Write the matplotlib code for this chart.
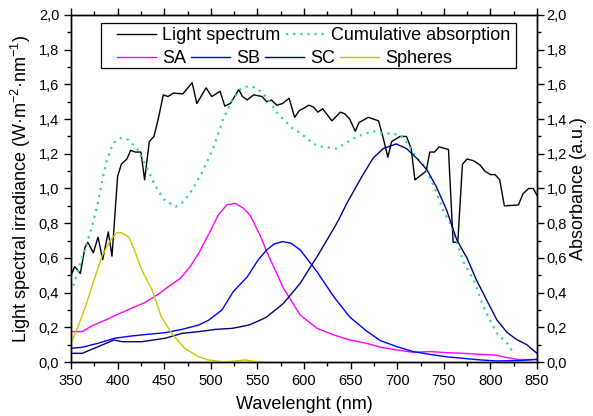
import matplotlib
matplotlib.use("Agg")
import matplotlib.pyplot as plt
from matplotlib.ticker import MultipleLocator, FuncFormatter
from matplotlib.patches import Rectangle

plt.rcParams['font.family'] = ['Liberation Sans', 'DejaVu Sans']
plt.rcParams['mathtext.fontset'] = 'custom'
plt.rcParams['mathtext.rm'] = 'Liberation Sans'
plt.rcParams['mathtext.it'] = 'Liberation Sans'

# Light spectrum (left axis)
light_wl = [350, 354, 360, 365, 368, 374, 379, 384, 390, 394, 400, 404, 410, 414,
            419, 425, 429, 434, 439, 444, 449, 454, 460, 470, 480, 485, 495, 501,
            510, 515, 521, 530, 534, 539, 546, 555, 560, 565, 571, 577, 584, 590,
            595, 599, 605, 610, 615, 620, 630, 639, 644, 649, 655, 659, 669, 680,
            685, 690, 694, 703, 710, 715, 719, 731, 735, 740, 745, 755, 760, 765,
            770, 775, 782, 789, 794, 800, 805, 810, 815, 830, 835, 841, 846, 850]
light_val = [0.50, 0.55, 0.51, 0.66, 0.69, 0.63, 0.72, 0.59, 0.75, 0.61, 1.07, 1.14, 1.17, 1.22,
             1.21, 1.21, 1.05, 1.27, 1.30, 1.41, 1.54, 1.53, 1.55, 1.545, 1.61, 1.49, 1.58, 1.53,
             1.56, 1.475, 1.49, 1.57, 1.53, 1.51, 1.54, 1.53, 1.50, 1.51, 1.48, 1.49, 1.52, 1.41,
             1.45, 1.46, 1.48, 1.47, 1.44, 1.46, 1.39, 1.44, 1.43, 1.40, 1.33, 1.38, 1.41, 1.39,
             1.29, 1.18, 1.27, 1.30, 1.30, 1.23, 1.05, 1.10, 1.21, 1.21, 1.24, 1.225, 0.69, 0.69,
             1.14, 1.17, 1.16, 1.135, 1.10, 1.08, 1.08, 1.05, 0.90, 0.905, 0.97, 1.00, 1.00, 0.96]

# Cumulative absorption (right axis)
cum_wl = [350, 372, 379, 383, 388, 395, 403, 412, 422, 431, 440, 449, 462, 471, 481,
          492, 503, 513, 522, 531, 540, 549, 560, 572, 588, 596, 605, 614, 635, 657,
          674, 685, 703, 710, 719, 730, 741, 750, 758, 771, 782, 794, 807, 818, 825]
cum_val = [0.40, 0.77, 0.92, 1.03, 1.155, 1.26, 1.29, 1.28, 1.22, 1.125, 1.02, 0.94, 0.895, 0.924, 1.00,
           1.107, 1.24, 1.395, 1.50, 1.57, 1.59, 1.58, 1.525, 1.43, 1.345, 1.32, 1.28, 1.245, 1.23, 1.30,
           1.33, 1.32, 1.31, 1.27, 1.19, 1.125, 0.99, 0.866, 0.79, 0.578, 0.473, 0.30, 0.165, 0.108, 0.05]

sa_wl = [350, 362, 372, 387, 401, 415, 429, 444, 456, 467, 478, 488, 499, 508, 517,
         526, 535, 542, 553, 560, 578, 596, 614, 632, 649, 667, 682, 700, 717, 735,
         753, 771, 789, 805, 818, 832, 850]
sa_val = [0.175, 0.175, 0.207, 0.242, 0.277, 0.31, 0.342, 0.392, 0.44, 0.48, 0.55, 0.636, 0.75, 0.847, 0.905,
          0.915, 0.886, 0.847, 0.73, 0.636, 0.425, 0.27, 0.194, 0.156, 0.127, 0.108, 0.085, 0.069, 0.056, 0.06,
          0.054, 0.05, 0.044, 0.04, 0.025, 0.012, 0.015]

sb_wl = [350, 362, 379, 397, 415, 433, 451, 469, 487, 498, 512, 524, 539, 551, 560,
         568, 577, 586, 596, 604, 614, 632, 649, 667, 682, 700, 717, 735, 753, 771,
         789, 807, 830, 850]
sb_val = [0.079, 0.085, 0.108, 0.137, 0.15, 0.16, 0.169, 0.188, 0.213, 0.242, 0.30, 0.405, 0.49, 0.59, 0.646,
          0.68, 0.694, 0.685, 0.646, 0.59, 0.52, 0.376, 0.26, 0.179, 0.123, 0.088, 0.06, 0.044, 0.03, 0.021,
          0.012, 0.006, 0.008, 0.015]

sc_wl = [350, 362, 379, 396, 405, 426, 451, 469, 487, 505, 523, 541, 555, 560, 578,
         596, 606, 614, 632, 637, 646, 662, 674, 685, 699, 710, 721, 732, 742, 753,
         764, 775, 785, 796, 807, 818, 828, 839, 850]
sc_val = [0.05, 0.05, 0.088, 0.127, 0.117, 0.117, 0.137, 0.165, 0.175, 0.188, 0.194, 0.213, 0.246, 0.26, 0.338,
          0.454, 0.54, 0.607, 0.77, 0.818, 0.915, 1.068, 1.174, 1.23, 1.257, 1.23, 1.174, 1.107, 1.01, 0.876,
          0.703, 0.598, 0.473, 0.357, 0.242, 0.17, 0.13, 0.10, 0.05]

sph_wl = [350, 358, 365, 374, 383, 392, 399, 404, 412, 418, 426, 437, 447, 458, 472,
          487, 497, 515, 537, 551, 557]
sph_val = [0.108, 0.21, 0.31, 0.46, 0.607, 0.70, 0.745, 0.745, 0.72, 0.645, 0.53, 0.415, 0.26, 0.165, 0.079,
           0.03, 0.012, 0.0, 0.012, 0.0, 0.0]

fig = plt.figure(figsize=(5.93, 4.16), dpi=100)
ax = fig.add_axes([71 / 593, 1 - 362 / 416, 466 / 593, 347 / 416])
ax2 = ax.twinx()

l_light, = ax.plot(light_wl, light_val, color='black', lw=1.0, label='Light spectrum')
l_cum, = ax2.plot(cum_wl, cum_val, color='#2fdc8c', lw=1.6, linestyle=(0, (1, 2.2)),
                  label='Cumulative absorption')
l_sa, = ax2.plot(sa_wl, sa_val, color='#ff00ff', lw=1.0, label='SA')
l_sb, = ax2.plot(sb_wl, sb_val, color='#0000ff', lw=1.0, label='SB')
l_sc, = ax2.plot(sc_wl, sc_val, color='#000080', lw=1.0, label='SC')
l_sph, = ax2.plot(sph_wl, sph_val, color='#c8c800', lw=1.0, label='Spheres')

comma = FuncFormatter(lambda v, p: ('%.1f' % v).replace('.', ','))
for a in (ax, ax2):
    a.set_xlim(350, 850)
    a.set_ylim(0, 2.0)
    a.yaxis.set_major_locator(MultipleLocator(0.2))
    a.yaxis.set_minor_locator(MultipleLocator(0.1))
    a.yaxis.set_major_formatter(comma)
ax.xaxis.set_major_locator(MultipleLocator(50))
ax.xaxis.set_minor_locator(MultipleLocator(25))

ax.tick_params(which='both', direction='out', labelsize=10.5, width=1.0)
ax.tick_params(which='major', length=5)
ax.tick_params(which='minor', length=3)
ax.tick_params(axis='x', which='both', top=True, labeltop=False)
ax2.tick_params(which='both', direction='out', labelsize=10.5, width=1.0, pad=2)
ax2.tick_params(which='major', length=5)
ax2.tick_params(which='minor', length=3)

for a in (ax, ax2):
    for s in a.spines.values():
        s.set_linewidth(1.0)

ax.set_xlabel('Wavelenght (nm)', fontsize=13, labelpad=6)
ax.set_ylabel('Light spectral irradiance (W·m$^{-2}$·nm$^{-1}$)', fontsize=13, labelpad=4)
ax2.set_ylabel('Absorbance (a.u.)', fontsize=13, labelpad=2)

# legend box with two rows
fig.add_artist(Rectangle((100.7 / 593, 1 - 68.3 / 416), 415 / 593, 45.6 / 416,
                         transform=fig.transFigure, facecolor='white',
                         edgecolor='black', lw=0.9, zorder=4))
leg_kw = dict(frameon=False, fontsize=13, handlelength=2.16, handletextpad=0.33,
              columnspacing=0.28, borderpad=0, borderaxespad=0, loc='center left',
              bbox_transform=fig.transFigure)
leg1 = fig.legend([l_light, l_cum], ['Light spectrum', 'Cumulative absorption'], ncol=2,
                  bbox_to_anchor=(117.3 / 593, 1 - 36 / 416), **leg_kw)
leg2 = fig.legend([l_sa, l_sb, l_sc, l_sph], ['SA', 'SB', 'SC', 'Spheres'], ncol=4,
                  bbox_to_anchor=(117.3 / 593, 1 - 58.5 / 416), **leg_kw)
for lg in (leg1, leg2):
    lg.set_zorder(5)

fig.savefig('out.png', dpi=100)
